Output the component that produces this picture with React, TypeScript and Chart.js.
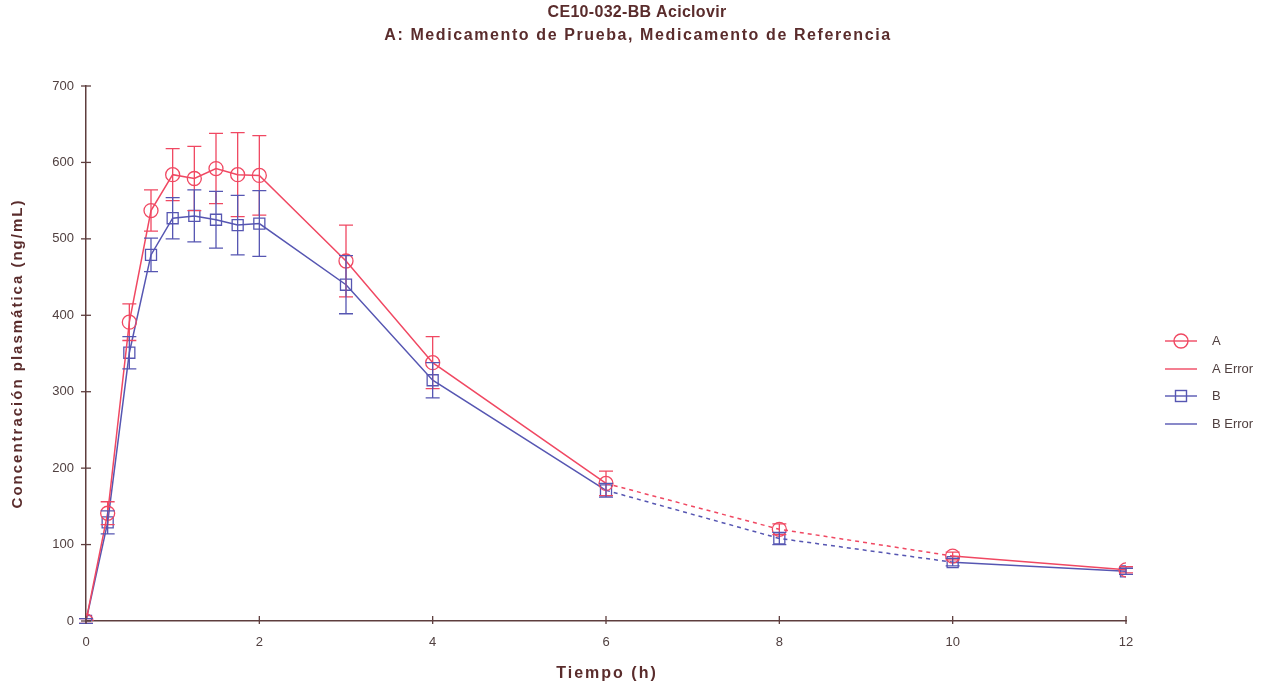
import React, { useEffect, useRef } from "react";
import { Chart, registerables } from "chart.js";
Chart.register(...registerables);

// ---- data ----
const timeH = [0, 0.25, 0.5, 0.75, 1, 1.25, 1.5, 1.75, 2, 3, 4, 6, 8, 10, 12];
const seriesA = [0, 141, 391, 537, 584, 579, 592, 584, 583, 471, 338, 180, 120, 85, 67];
const errorA = [3, 15, 24, 27, 34, 42, 46, 55, 52, 47, 34, 16, 7, 5, 4];
const seriesB = [0, 129, 351, 479, 527, 530, 525, 518, 520, 440, 315, 171, 108, 77, 65];
const errorB = [3, 15, 21, 22, 27, 34, 37, 39, 43, 38, 23, 9, 8, 5, 4];
const yTickValues = [0, 100, 200, 300, 400, 500, 600, 700];
const xTickValues = [0, 2, 4, 6, 8, 10, 12];
const titleLines = ["CE10-032-BB Aciclovir", "A: Medicamento de Prueba, Medicamento de Referencia"];
const legendLabels = ["A", "A Error", "B", "B Error"];
const xTitle = "Tiempo (h)";
const yTitle = "Concentración plasmática (ng/mL)";

const RED = "rgb(240,72,98)";
const BLUE = "rgb(86,86,178)";
const AXIS = "#5e3e3e";
const TEXT = "#504040";
const TITLE = "#5a2c2c";
const FONT = '"Liberation Sans", Arial, sans-serif';

const errorBarPlugin = {
  id: "errorBars",
  afterDatasetsDraw(chart: any) {
    const ctx = chart.ctx;
    const xs = chart.scales.x;
    const ys = chart.scales.y;
    chart.data.datasets.forEach((ds: any) => {
      const errs = ds.errors;
      if (!errs) return;
      ctx.save();
      ctx.strokeStyle = ds.borderColor;
      ctx.lineWidth = 1.3;
      ds.data.forEach((p: any, j: number) => {
        const px = xs.getPixelForValue(p.x);
        const top = ys.getPixelForValue(p.y + errs[j]);
        const bot = ys.getPixelForValue(p.y - errs[j]);
        const cap = 7;
        ctx.beginPath();
        ctx.moveTo(px, top);
        ctx.lineTo(px, bot);
        ctx.moveTo(px - cap, top);
        ctx.lineTo(px + cap, top);
        ctx.moveTo(px - cap, bot);
        ctx.lineTo(px + cap, bot);
        ctx.stroke();
      });
      ctx.restore();
    });
  },
};

const spaced = (ctx: any, spacing: string) => {
  try {
    ctx.letterSpacing = spacing;
  } catch (e) {
    /* ignore */
  }
};

const decorPlugin = {
  id: "decor",
  afterDraw(chart: any) {
    const ctx = chart.ctx;
    const area = chart.chartArea;
    const xs = chart.scales.x;
    const ys = chart.scales.y;
    ctx.save();
    // ticks crossing the axes
    ctx.strokeStyle = AXIS;
    ctx.lineWidth = 1.3;
    yTickValues.forEach((v) => {
      const py = ys.getPixelForValue(v);
      ctx.beginPath();
      ctx.moveTo(area.left - 5, py);
      ctx.lineTo(area.left + 5, py);
      ctx.stroke();
    });
    xTickValues.forEach((v) => {
      const px = xs.getPixelForValue(v);
      ctx.beginPath();
      ctx.moveTo(px, area.bottom - 5);
      ctx.lineTo(px, area.bottom + 3);
      ctx.stroke();
    });
    // chart title
    ctx.fillStyle = TITLE;
    ctx.textAlign = "center";
    ctx.textBaseline = "middle";
    ctx.font = `bold 16px ${FONT}`;
    spaced(ctx, "0.3px");
    ctx.fillText(titleLines[0], 637, 13);
    spaced(ctx, "1.6px");
    ctx.fillText(titleLines[1], 638, 36);
    // x axis title
    ctx.font = `bold 16px ${FONT}`;
    spaced(ctx, "2px");
    ctx.fillText(xTitle, (area.left + area.right) / 2 + 1, 674);
    // y axis title
    ctx.save();
    ctx.translate(18, (area.top + area.bottom) / 2);
    ctx.rotate(-Math.PI / 2);
    ctx.font = `bold 15px ${FONT}`;
    spaced(ctx, "2px");
    ctx.fillText(yTitle, 0, 0);
    ctx.restore();
    spaced(ctx, "0px");
    // legend
    const rows = [255, 283, 310, 338];
    const colors = [RED, RED, BLUE, BLUE];
    const x0 = area.right + 39;
    const x1 = area.right + 71;
    const cx = (x0 + x1) / 2;
    rows.forEach((dy, i) => {
      const y = area.top + dy;
      ctx.strokeStyle = colors[i];
      ctx.lineWidth = 1.4;
      ctx.beginPath();
      ctx.moveTo(x0, y);
      ctx.lineTo(x1, y);
      ctx.stroke();
      if (i === 0) {
        ctx.beginPath();
        ctx.arc(cx, y, 7, 0, Math.PI * 2);
        ctx.stroke();
      } else if (i === 2) {
        ctx.strokeRect(cx - 5.5, y - 5.5, 11, 11);
      }
      ctx.fillStyle = TEXT;
      ctx.textAlign = "left";
      ctx.font = `13px ${FONT}`;
      ctx.fillText(legendLabels[i], area.right + 86, y);
    });
    ctx.restore();
  },
};

const dashed = (c: any) =>
  c.p0.parsed.x >= 6 && c.p1.parsed.x <= 10 ? [4, 4] : undefined;

export default function App() {
  const ref = useRef<HTMLCanvasElement | null>(null);
  useEffect(() => {
    if (!ref.current) return;
    const chart = new Chart(ref.current, {
      type: "line",
      data: {
        datasets: [
          {
            label: "A",
            data: timeH.map((t, i) => ({ x: t, y: seriesA[i] })),
            errors: errorA,
            borderColor: RED,
            backgroundColor: "rgba(255,255,255,0)",
            borderWidth: 1.5,
            pointStyle: "circle",
            pointRadius: 7,
            pointBorderWidth: 1.3,
            pointBorderColor: RED,
            pointBackgroundColor: "rgba(255,255,255,0)",
            segment: { borderDash: dashed },
          } as any,
          {
            label: "B",
            data: timeH.map((t, i) => ({ x: t, y: seriesB[i] })),
            errors: errorB,
            borderColor: BLUE,
            backgroundColor: "rgba(255,255,255,0)",
            borderWidth: 1.5,
            pointStyle: "rect",
            pointRadius: 7.8,
            pointBorderWidth: 1.3,
            pointBorderColor: BLUE,
            pointBackgroundColor: "rgba(255,255,255,0)",
            segment: { borderDash: dashed },
          } as any,
        ],
      },
      options: {
        animation: false,
        responsive: false,
        devicePixelRatio: 1,
        layout: { padding: { top: 86, right: 146, left: 0, bottom: 0 } },
        plugins: {
          legend: { display: false },
          title: { display: false },
          tooltip: { enabled: false },
        },
        scales: {
          x: {
            type: "linear",
            min: 0,
            max: 12,
            afterBuildTicks: (s: any) => {
              s.ticks = xTickValues.map((v) => ({ value: v }));
            },
            afterFit: (s: any) => {
              s.height = 63;
            },
            ticks: { color: TEXT, font: { size: 13, family: FONT }, padding: 14 },
            grid: { display: false, drawTicks: false },
            border: { display: true, color: AXIS, width: 1.5 },
            title: { display: false },
          },
          y: {
            type: "linear",
            min: 0,
            max: 700,
            afterBuildTicks: (s: any) => {
              s.ticks = yTickValues.map((v) => ({ value: v }));
            },
            afterFit: (s: any) => {
              s.width = 86;
            },
            ticks: { color: TEXT, font: { size: 13, family: FONT }, padding: 12 },
            grid: { display: false, drawTicks: false },
            border: { display: true, color: AXIS, width: 1.5 },
            title: { display: false },
          },
        },
      },
      plugins: [errorBarPlugin, decorPlugin],
    } as any);
    return () => chart.destroy();
  }, []);
  return (
    <div style={{ position: "absolute", left: 0, top: 0, width: 1272, height: 684, background: "#fff" }}>
      <canvas ref={ref} width={1272} height={684} style={{ display: "block", width: 1272, height: 684 }} />
    </div>
  );
}
